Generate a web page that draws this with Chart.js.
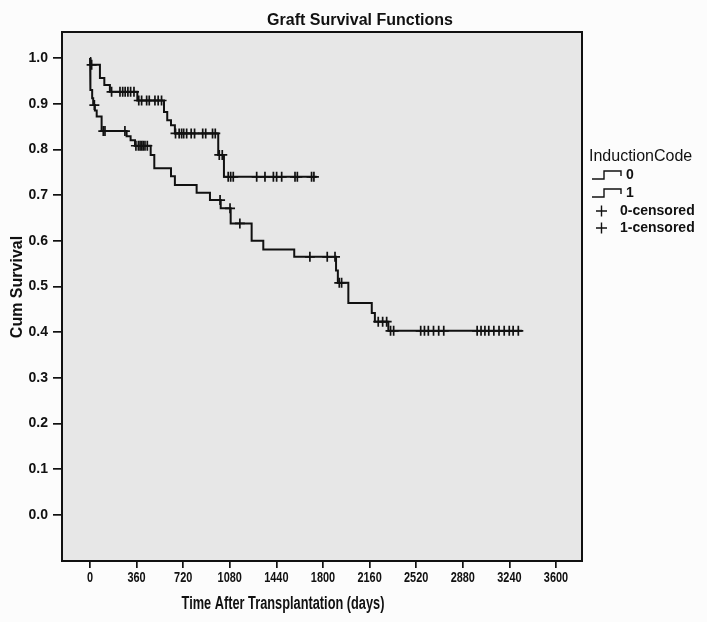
<!DOCTYPE html>
<html>
<head>
<meta charset="utf-8">
<script src="https://cdn.jsdelivr.net/npm/chart.js@4.4.0/dist/chart.umd.min.js"></script>
<style>
  html, body { margin: 0; padding: 0; background: #fff; }
  #wrap { width: 707px; height: 622px; }
</style>
</head>
<body>
<div id="wrap"><canvas id="km" width="707" height="622"></canvas></div>
<script>
// texts
const chartTitle = 'Graft Survival Functions';
const xAxisTitle = 'Time After Transplantation (days)';
const yAxisTitle = 'Cum Survival';
const legendTitle = 'InductionCode';
const groupLabels = ['0', '1'];
const censorLabels = ['0-censored', '1-censored'];

// axis ticks
const xTicks = [0, 360, 720, 1080, 1440, 1800, 2160, 2520, 2880, 3240, 3600];
const yTicks = [0.0, 0.1, 0.2, 0.3, 0.4, 0.5, 0.6, 0.7, 0.8, 0.9, 1.0];

// InductionCode = 0 : event times (days) and survival after each event
const group0Times = [0, 3, 77, 111, 154, 366, 572, 597, 626, 656, 991, 1035];
const group0Survival = [1.0, 0.985, 0.956, 0.941, 0.926, 0.907, 0.882, 0.864, 0.853, 0.835, 0.788, 0.740];
const group0End = 1751;
const group0Censored = [13, 167, 232, 253, 272, 293, 314, 340, 377, 399, 438, 458, 502, 527, 553,
  661, 689, 708, 724, 747, 782, 808, 871, 894, 947, 968, 999, 1022,
  1068, 1087, 1107, 1288, 1352, 1417, 1442, 1481, 1584, 1602, 1712, 1730];

// InductionCode = 1
const group1Times = [0, 1, 2, 6, 17, 25, 38, 52, 90, 283, 314, 348, 469, 497, 626, 656, 824, 927,
  1010, 1087, 1249, 1339, 1578, 1901, 1915, 1996, 2177, 2201, 2305];
const group1Survival = [1.0, 0.970, 0.944, 0.930, 0.912, 0.897, 0.885, 0.872, 0.840, 0.829, 0.820, 0.808,
  0.788, 0.759, 0.741, 0.722, 0.705, 0.689, 0.671, 0.638, 0.600, 0.581, 0.565, 0.535, 0.508,
  0.464, 0.442, 0.423, 0.403];
const group1End = 3339;
const group1Censored = [34, 103, 116, 270, 355, 374, 387, 399, 411, 425, 443, 1005, 1082, 1158,
  1699, 1833, 1893, 1926, 1944, 2227, 2261, 2292, 2322, 2346,
  2555, 2584, 2614, 2654, 2694, 2733, 2991, 3021, 3051, 3081, 3120, 3160, 3200, 3239, 3269, 3309];

function stepPoints(times, surv, end) {
  const pts = [{ x: times[0], y: surv[0] }];
  for (let i = 1; i < times.length; i++) {
    pts.push({ x: times[i], y: surv[i - 1] });
    pts.push({ x: times[i], y: surv[i] });
  }
  pts.push({ x: end, y: surv[surv.length - 1] });
  return pts;
}

function survivalAt(times, surv, t) {
  let s = surv[0];
  for (let i = 0; i < times.length; i++) {
    if (times[i] <= t) s = surv[i];
  }
  return s;
}

function censorPoints(list, times, surv) {
  return list.map(t => ({ x: t, y: survivalAt(times, surv, t) }));
}

const ink = '#111';
const sans = "'Liberation Sans', Arial, sans-serif";

const lineStyle = {
  showLine: true, pointRadius: 0, borderColor: ink, borderWidth: 2, tension: 0, fill: false
};
const crossStyle = {
  showLine: false, pointStyle: 'cross', pointRadius: 5, borderColor: ink,
  pointBorderWidth: 1.7, backgroundColor: ink
};

// condensed text: the original uses a narrow face that is not installed
function narrowText(ctx, text, x, y, squeeze) {
  ctx.save();
  ctx.translate(x, y);
  ctx.scale(squeeze, 1);
  ctx.fillText(text, 0, 0);
  ctx.restore();
}

const frameAndLegend = {
  id: 'frameAndLegend',
  beforeDraw(chart) {
    const { ctx, chartArea: a } = chart;
    ctx.save();
    ctx.fillStyle = '#fcfcfc';
    ctx.fillRect(0, 0, chart.width, chart.height);
    ctx.fillStyle = '#e7e7e7';
    ctx.fillRect(a.left, a.top, a.right - a.left, a.bottom - a.top);
    ctx.restore();
  },
  afterDraw(chart) {
    const { ctx, chartArea: a } = chart;
    const xs = chart.scales.x;
    ctx.save();
    ctx.strokeStyle = ink;
    ctx.lineWidth = 2;
    ctx.strokeRect(a.left, a.top, a.right - a.left, a.bottom - a.top);
    ctx.fillStyle = ink;

    // x tick labels (narrow)
    ctx.font = 'bold 14px ' + sans;
    ctx.textAlign = 'center';
    ctx.textBaseline = 'middle';
    xTicks.forEach(v => narrowText(ctx, String(v), xs.getPixelForValue(v), 578, 0.78));

    // axis titles
    ctx.font = 'bold 18px ' + sans;
    narrowText(ctx, xAxisTitle, 283, 604, 0.71);
    ctx.save();
    ctx.translate(18, 287);
    ctx.rotate(-Math.PI / 2);
    ctx.font = 'bold 16px ' + sans;
    ctx.fillText(yAxisTitle, 0, 0);
    ctx.restore();

    // title
    ctx.font = 'bold 16px ' + sans;
    ctx.textBaseline = 'alphabetic';
    ctx.fillText(chartTitle, 360, 25);

    // legend
    ctx.textAlign = 'left';
    ctx.textBaseline = 'middle';
    ctx.font = '16px ' + sans;
    ctx.fillText(legendTitle, 589, 157);
    ctx.font = 'bold 14px ' + sans;
    ctx.lineWidth = 1.4;
    [175, 193].forEach((y, i) => {
      ctx.beginPath();
      ctx.moveTo(592, y + 4);
      ctx.lineTo(604, y + 4);
      ctx.lineTo(604, y - 4);
      ctx.lineTo(621, y - 4);
      ctx.lineTo(621, y + 1);
      ctx.stroke();
      ctx.fillText(groupLabels[i], 626, y);
    });
    [211, 228].forEach((y, i) => {
      ctx.beginPath();
      ctx.moveTo(596, y); ctx.lineTo(607, y);
      ctx.moveTo(601.5, y - 5.5); ctx.lineTo(601.5, y + 5.5);
      ctx.stroke();
      ctx.fillText(censorLabels[i], 620, y);
    });
    ctx.restore();
  }
};

new Chart(document.getElementById('km'), {
  type: 'line',
  data: {
    datasets: [
      Object.assign({ label: groupLabels[0], data: stepPoints(group0Times, group0Survival, group0End) }, lineStyle),
      Object.assign({ label: groupLabels[1], data: stepPoints(group1Times, group1Survival, group1End) }, lineStyle),
      Object.assign({ label: censorLabels[0], data: censorPoints(group0Censored, group0Times, group0Survival) }, crossStyle),
      Object.assign({ label: censorLabels[1], data: censorPoints(group1Censored, group1Times, group1Survival) }, crossStyle)
    ]
  },
  options: {
    responsive: false,
    animation: false,
    layout: { padding: { top: 32, right: 125, bottom: 0, left: 0 } },
    plugins: { legend: { display: false }, tooltip: { enabled: false }, title: { display: false } },
    scales: {
      x: {
        type: 'linear',
        min: -216,
        max: 3801,
        afterBuildTicks: s => { s.ticks = xTicks.map(v => ({ value: v })); },
        afterFit: s => { s.height = 61; },
        grid: { display: true, drawOnChartArea: false, drawTicks: true, tickLength: 7, color: ink, lineWidth: 1.7 },
        border: { display: true, color: ink, width: 2 },
        ticks: { display: false, autoSkip: false },
        title: { display: false }
      },
      y: {
        type: 'linear',
        min: -0.1007,
        max: 1.0569,
        afterBuildTicks: s => { s.ticks = yTicks.map(v => ({ value: v })); },
        afterFit: s => { s.width = 62; },
        grid: { display: true, drawOnChartArea: false, drawTicks: true, tickLength: 9, color: ink, lineWidth: 1.7 },
        border: { display: true, color: ink, width: 2 },
        ticks: { color: ink, font: { family: sans, size: 14, weight: 'bold' }, padding: 5, autoSkip: false,
          callback: v => v.toFixed(1) },
        title: { display: false }
      }
    }
  },
  plugins: [frameAndLegend]
});
</script>
</body>
</html>
